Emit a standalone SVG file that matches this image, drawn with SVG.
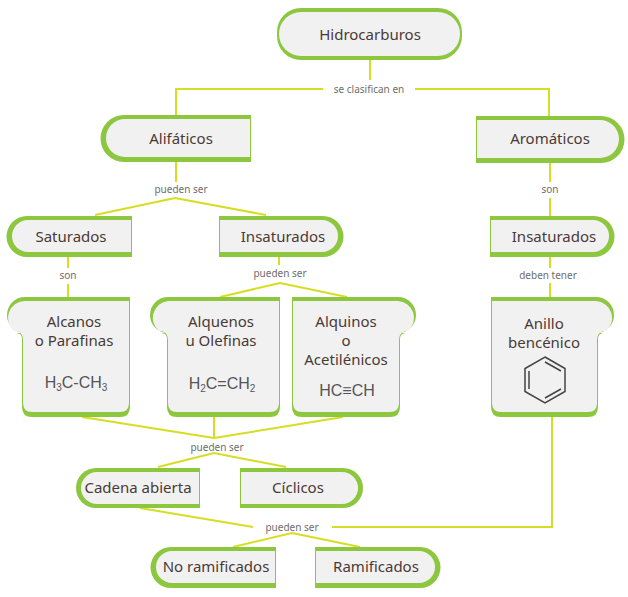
<svg xmlns="http://www.w3.org/2000/svg" width="628" height="597" viewBox="0 0 628 597">
<style>
.g{fill:#8dc63f}.f{fill:#f1f1f2}
.t{font-family:"Noto Sans",sans-serif;font-size:15px;fill:#4a3a35;text-anchor:middle}
.fm{font-family:"Liberation Sans",sans-serif;font-size:16px;fill:#555;text-anchor:middle}
.l{font-family:"Noto Sans",sans-serif;font-size:10px;fill:#6d6d6d;text-anchor:middle}
.c{stroke:#d6de23;stroke-width:2;fill:none}
</style>
<rect width="628" height="597" fill="#fff"/>
<g id="connectors" class="c">
<path d="M370 60V80M176 117V89H323M415 89H549V116"/>
<path d="M176 162V182M175 198L95 215M175 198L266 215"/>
<path d="M550 163V182M550 198V216"/>
<path d="M68 257V268M68 284V297"/>
<path d="M279 257V265M280 283L220 297M280 283L347 297"/>
<path d="M550 257V268M550 283V297"/>
<path d="M82 417L214 438M214 417V438M343 417L214 438"/>
<path d="M214 453L158 467M214 453L286 467"/>
<path d="M140 508L253 527M332 527H552V415M292 533L233 547M292 533L360 547"/>
</g>
<g class="l">
<text x="369" y="93">se clasifican en</text>
<text x="181" y="193">pueden ser</text>
<text x="550" y="193">son</text>
<text x="68" y="279">son</text>
<text x="280" y="277">pueden ser</text>
<text x="548" y="279">deben tener</text>
<text x="217" y="451">pueden ser</text>
<text x="292" y="531">pueden ser</text>
</g>
<g id="hidrocarburos"><rect class="g" x="277" y="8" width="185" height="52" rx="24"/><rect class="f" x="279" y="12" width="181" height="44" rx="22"/><text class="t" x="370" y="40" font-size="17">Hidrocarburos</text></g>
<g id="alifaticos"><path class="g" d="M251 115H124A23 23 0 0 0 124 162H251Z"/><path class="f" d="M250 119H125A19 19 0 0 0 125 157H250Z"/><text class="t" x="181" y="144">Alifáticos</text></g>
<g id="aromaticos"><path class="g" d="M476 116H601A23 23 0 0 1 601 163H476Z"/><path class="f" d="M477 120H600A19 19 0 0 1 600 158H477Z"/><text class="t" x="550" y="144">Aromáticos</text></g>
<g id="saturados"><path class="g" d="M132 216H27A20 20 0 0 0 27 257H132Z"/><path class="f" d="M131 220H28A16 16 0 0 0 28 252H131Z"/><text class="t" x="71" y="242">Saturados</text></g>
<g id="insaturados1"><path class="g" d="M219 216H323A20 20 0 0 1 323 257H219Z"/><path class="f" d="M220 220H322A16 16 0 0 1 322 252H220Z"/><text class="t" x="283" y="242">Insaturados</text></g>
<g id="insaturados2"><path class="g" d="M490 216H594A20 20 0 0 1 594 257H490Z"/><path class="f" d="M491 220H593A16 16 0 0 1 593 252H491Z"/><text class="t" x="554" y="242">Insaturados</text></g>
<g id="alcanos"><path class="g" d="M25 297H130V407Q130 417 120 417H32Q22 417 22 407V339Q22 333 16 333H25A18 18 0 0 1 25 297Z"/><path class="f" d="M25 301H129V403Q129 412 120 412H32Q23 412 23 403V340Q23 331 14 331A17 17 0 0 1 25 301Z"/>
<text class="t" x="74" y="327">Alcanos</text><text class="t" x="74" y="346">o Parafinas</text>
<text class="fm" x="76" y="388">H<tspan font-size="10" dy="3">3</tspan><tspan dy="-3">C-CH</tspan><tspan font-size="10" dy="3">3</tspan></text></g>
<g id="alquenos"><path class="g" d="M168 297H280V407Q280 417 270 417H177Q167 417 167 407V339Q167 333 161 333H168A18 18 0 0 1 168 297Z"/><path class="f" d="M168 301H279V403Q279 412 270 412H177Q168 412 168 403V340Q168 331 159 331A17 17 0 0 1 168 301Z"/>
<text class="t" x="221" y="327">Alquenos</text><text class="t" x="221" y="346">u Olefinas</text>
<text class="fm" x="222" y="389">H<tspan font-size="10" dy="3">2</tspan><tspan dy="-3">C=CH</tspan><tspan font-size="10" dy="3">2</tspan></text></g>
<g id="alquinos"><path class="g" d="M398 297H292V407Q292 417 302 417H390Q400 417 400 407V339Q400 333 406 333H398A18 18 0 0 0 398 297Z"/><path class="f" d="M398 301H293V403Q293 412 302 412H390Q399 412 399 403V340Q399 331 408 331A17 17 0 0 0 398 301Z"/>
<text class="t" x="346" y="327">Alquinos</text><text class="t" x="346" y="346">o</text><text class="t" x="346" y="365">Acetilénicos</text>
<text class="fm" x="347" y="396">HC≡CH</text></g>
<g id="anillo"><path class="g" d="M596 297H491V407Q491 417 501 417H588Q598 417 598 407V339Q598 333 604 333H596A18 18 0 0 0 596 297Z"/><path class="f" d="M596 301H492V403Q492 412 501 412H588Q597 412 597 403V340Q597 331 606 331A17 17 0 0 0 596 301Z"/>
<text class="t" x="544" y="329">Anillo</text><text class="t" x="544" y="348">bencénico</text>
<g stroke="#444" stroke-width="1.5" fill="none"><path d="M545 357L565 368.5V391.5L545 403L525 391.5V368.5Z"/><path d="M545 362L561 371M561 389L545 398M529 389V371"/></g></g>
<g id="cadena"><path class="g" d="M200 468H96A20 20 0 0 0 96 508H200Z"/><path class="f" d="M199 472H97A16 16 0 0 0 97 504H199Z"/><text class="t" x="138" y="493">Cadena abierta</text></g>
<g id="ciclicos"><path class="g" d="M240 468H343A20 20 0 0 1 343 508H240Z"/><path class="f" d="M241 472H342A16 16 0 0 1 342 504H241Z"/><text class="t" x="298" y="493">Cíclicos</text></g>
<g id="noram"><path class="g" d="M276 547H171A20 20 0 0 0 171 588H276Z"/><path class="f" d="M275 551H172A16 16 0 0 0 172 583H275Z"/><text class="t" x="216" y="572">No ramificados</text></g>
<g id="ram"><path class="g" d="M315 547H420A20 20 0 0 1 420 588H315Z"/><path class="f" d="M316 551H419A16 16 0 0 1 419 583H316Z"/><text class="t" x="376" y="572">Ramificados</text></g>
</svg>
